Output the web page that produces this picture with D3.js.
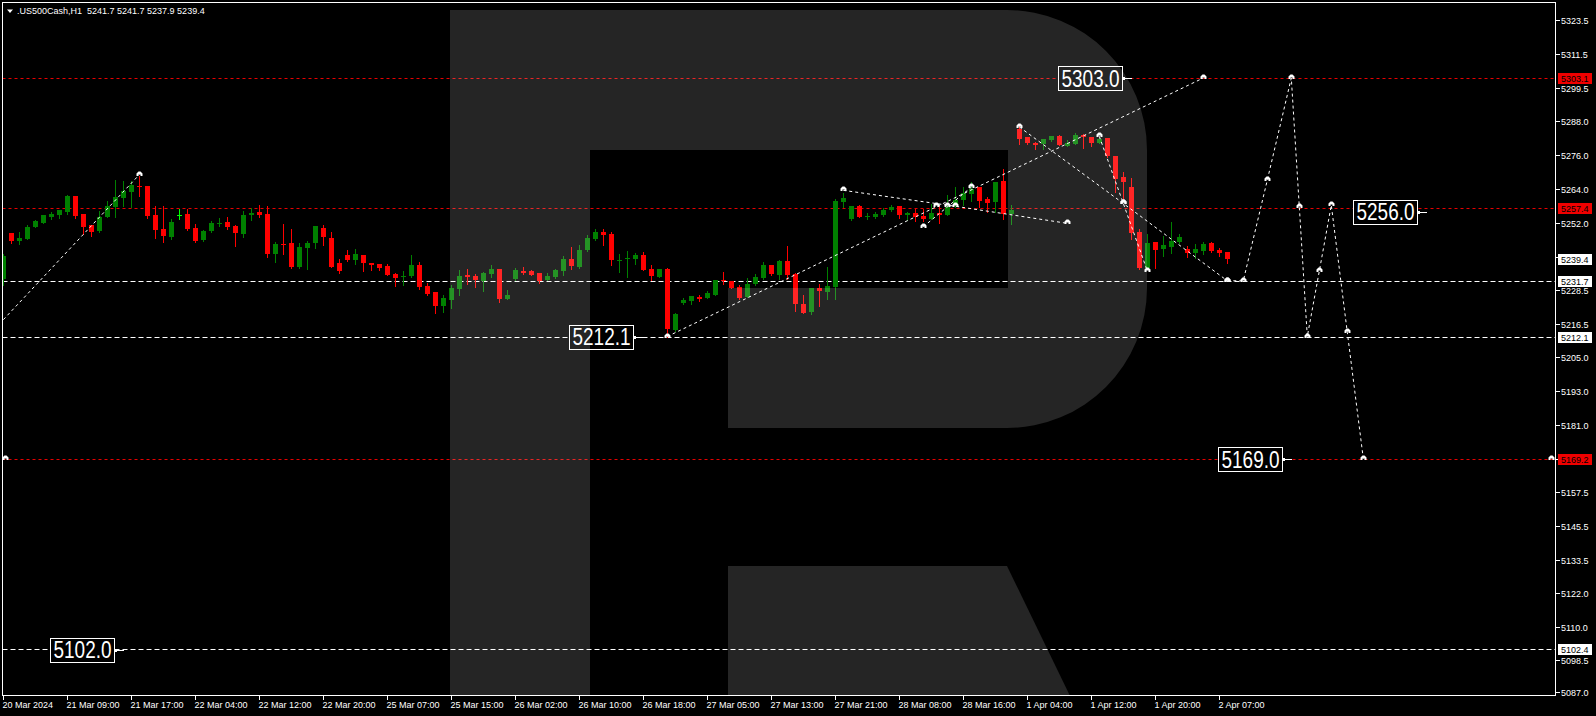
<!DOCTYPE html>
<html><head><meta charset="utf-8">
<script src="https://cdn.jsdelivr.net/npm/d3@7"></script>
<style>
body{margin:0;background:#000;overflow:hidden}
svg{display:block}
text{font-family:"Liberation Sans",Arial,sans-serif}
</style></head>
<body><svg id="c" width="1596" height="716"></svg>
<script>
// ---- data ----
const symbolTitle = ".US500Cash,H1  5241.7 5241.7 5237.9 5239.4";
const opens = [5232.2,5248.5,5245.7,5246.4,5250.6,5252.1,5254.2,5254.9,5255.9,5261.5,5255.2,5251.4,5249.2,5254.2,5257.7,5260.8,5263.0,5265.1,5265.1,5254.9,
5249.9,5247.1,5255.0,5255.2,5250.3,5246.1,5249.2,5252.0,5252.4,5251.0,5248.2,5254.9,5255.9,5255.2,5241.2,5244.7,5245.0,5236.6,5243.3,5245.0,
5250.3,5246.8,5238.0,5240.8,5239.0,5240.8,5238.0,5237.6,5236.9,5234.1,5233.4,5233.4,5237.3,5229.8,5227.7,5222.8,5224.9,5228.8,5233.7,5233.3,
5231.6,5234.0,5235.8,5225.3,5232.3,5235.1,5235.1,5234.4,5231.9,5233.0,5235.1,5239.3,5236.5,5242.5,5246.3,5248.8,5248.1,5239.0,5239.6,5239.3,
5240.7,5235.8,5233.0,5235.8,5214.4,5223.9,5224.6,5226.0,5225.6,5226.7,5232.0,5231.6,5229.5,5226.0,5230.5,5232.6,5237.2,5233.7,5238.6,5234.0,
5223.5,5220.7,5229.1,5227.7,5229.5,5259.4,5253.4,5257.9,5254.4,5254.1,5254.8,5256.5,5257.9,5254.8,5255.5,5254.4,5253.4,5255.5,5254.8,5258.3,
5260.1,5262.2,5264.6,5260.4,5259.4,5266.7,5255.1,5285.0,5282.2,5280.1,5279.7,5281.1,5282.6,5279.0,5279.7,5282.9,5282.2,5280.1,5281.9,5275.5,
5268.1,5264.6,5248.8,5236.2,5245.3,5242.8,5243.5,5245.3,5242.8,5241.4,5242.1,5244.9,5242.5,5241.7];
const highs = [5241.0,5248.5,5248.9,5251.4,5253.1,5254.9,5255.9,5256.6,5261.9,5261.5,5255.2,5251.4,5256.3,5259.8,5267.2,5266.8,5266.8,5268.6,5265.1,5258.0,
5258.0,5253.5,5257.0,5257.0,5251.7,5249.6,5252.8,5253.8,5254.2,5251.4,5256.3,5257.3,5258.4,5258.0,5245.4,5251.7,5249.9,5245.0,5245.7,5251.0,
5251.4,5248.9,5239.4,5242.6,5242.9,5240.8,5238.0,5237.6,5237.6,5234.5,5235.2,5240.8,5238.3,5231.0,5227.7,5226.7,5230.2,5235.5,5235.8,5234.0,
5234.8,5237.2,5235.8,5228.4,5236.2,5236.5,5235.5,5234.4,5234.4,5235.8,5240.4,5243.5,5244.2,5247.8,5249.9,5249.9,5248.8,5241.1,5242.1,5241.4,
5241.8,5237.2,5235.8,5236.2,5220.3,5225.6,5226.3,5226.7,5228.1,5231.9,5234.7,5231.6,5230.2,5232.6,5234.0,5238.3,5237.2,5239.0,5243.9,5234.4,
5226.7,5229.1,5230.5,5236.5,5260.4,5262.5,5257.9,5258.3,5255.5,5255.8,5257.2,5258.3,5257.9,5255.8,5256.9,5256.9,5258.6,5257.9,5261.8,5264.6,
5264.6,5266.4,5264.6,5261.1,5266.4,5270.9,5258.3,5286.4,5282.2,5280.4,5281.5,5282.6,5282.9,5281.1,5283.6,5283.3,5282.2,5281.9,5281.9,5275.5,
5269.9,5267.8,5249.9,5248.1,5245.3,5247.4,5252.3,5248.1,5243.9,5244.6,5245.3,5245.3,5243.2,5241.7];
const lows = [5230.3,5245.1,5244.8,5246.4,5250.6,5252.1,5253.5,5253.8,5255.2,5253.8,5248.2,5247.5,5248.9,5254.2,5254.2,5258.0,5257.7,5261.5,5253.8,5246.8,
5245.4,5246.4,5253.5,5249.6,5245.4,5245.7,5248.9,5251.0,5249.9,5244.0,5247.1,5253.1,5254.2,5240.1,5238.3,5241.2,5236.2,5236.2,5235.9,5243.3,
5244.3,5236.6,5234.5,5238.7,5237.6,5235.2,5235.5,5235.5,5233.8,5229.9,5230.3,5233.1,5228.8,5226.7,5220.3,5220.7,5222.1,5226.7,5230.5,5229.5,
5228.1,5233.0,5224.2,5225.3,5231.9,5234.0,5233.7,5230.9,5231.9,5232.6,5233.7,5235.8,5236.2,5242.1,5246.0,5244.2,5237.2,5234.8,5233.0,5237.6,
5235.5,5231.9,5233.0,5212.1,5214.0,5223.5,5223.5,5224.6,5225.6,5226.7,5230.5,5229.1,5225.3,5226.0,5230.2,5232.3,5233.7,5232.3,5232.3,5221.0,
5220.3,5220.0,5222.8,5225.3,5225.3,5257.6,5253.0,5254.1,5253.4,5253.7,5254.4,5256.2,5253.7,5253.0,5252.7,5252.7,5253.4,5252.0,5254.8,5257.6,
5258.3,5259.7,5257.6,5255.8,5255.8,5253.4,5251.6,5279.7,5279.7,5278.0,5278.0,5280.8,5279.4,5279.0,5279.7,5278.3,5279.0,5280.1,5275.2,5262.9,
5260.1,5246.3,5235.8,5235.8,5236.2,5240.4,5241.4,5245.0,5240.0,5239.7,5241.1,5241.8,5240.4,5237.9];
const closes = [5240.5,5245.7,5246.8,5250.6,5252.8,5254.9,5255.2,5256.6,5261.5,5254.5,5250.6,5248.9,5254.2,5258.0,5261.2,5263.3,5265.4,5265.0,5254.5,5249.6,
5247.5,5252.4,5255.0,5249.9,5245.7,5249.2,5252.0,5252.1,5250.6,5248.5,5254.9,5255.6,5254.9,5241.2,5244.7,5244.6,5236.6,5243.6,5245.0,5251.0,
5247.1,5236.6,5235.2,5239.0,5241.2,5238.0,5237.3,5236.2,5233.8,5232.7,5233.5,5237.3,5229.5,5227.0,5222.8,5225.6,5229.1,5233.3,5233.0,5231.9,
5234.4,5235.8,5225.3,5226.7,5235.5,5234.4,5233.7,5231.6,5233.3,5235.5,5239.3,5236.9,5242.5,5246.7,5248.8,5247.8,5239.0,5239.1,5239.7,5240.7,
5235.5,5233.3,5235.8,5214.7,5220.0,5224.9,5226.3,5225.3,5227.4,5231.9,5231.9,5229.1,5225.6,5230.5,5233.0,5237.2,5234.0,5238.6,5233.7,5223.5,
5220.3,5229.1,5228.1,5229.8,5259.7,5260.8,5257.9,5254.1,5254.5,5255.1,5256.5,5257.6,5254.8,5255.5,5254.1,5253.4,5255.5,5254.8,5257.6,5260.1,
5262.5,5263.9,5259.7,5259.0,5266.4,5255.1,5256.5,5281.5,5280.1,5279.4,5281.5,5282.6,5279.4,5280.1,5282.9,5282.2,5280.1,5281.5,5275.5,5267.4,
5266.4,5248.5,5236.2,5244.9,5242.5,5244.2,5245.6,5247.0,5241.4,5242.8,5244.6,5242.1,5241.4,5239.4];

const xTickBars = [0,8,16,24,32,40,48,56,64,72,80,88,96,104,112,120,128,136,144,152];
const xTickLabels = ["20 Mar 2024","21 Mar 09:00","21 Mar 17:00","22 Mar 04:00","22 Mar 12:00","22 Mar 20:00","25 Mar 07:00","25 Mar 15:00",
"26 Mar 02:00","26 Mar 10:00","26 Mar 18:00","27 Mar 05:00","27 Mar 13:00","27 Mar 21:00","28 Mar 08:00","28 Mar 16:00",
"1 Apr 04:00","1 Apr 12:00","1 Apr 20:00","2 Apr 07:00"];
const yTicks = [5323.5,5311.5,5299.5,5288.0,5276.0,5264.0,5252.0,5240.0,5228.5,5216.5,5205.0,5193.0,5181.0,5169.0,5157.5,5145.5,5133.5,5122.0,5110.0,5098.5,5087.0];

const levelValues = [5303.1,5257.4,5231.7,5212.1,5169.2,5102.4];
const levelKinds  = ["red","red","white","white","red","white"];
const currentPrice = 5239.4;

// forecast / wave paths: [bar index, price]
const wavePaths = [
  [[-0.5,5216.5],[17,5269.0]],
  [[83,5212.1],[150,5303.0]],
  [[105,5263.5],[119,5257.9],[133,5251.9]],
  [[115,5250.7],[121,5264.6]],
  [[127,5285.8],[140,5258.9],[153,5231.7]],
  [[137,5282.5],[140,5258.9],[143,5235.2]],
  [[153,5231.7],[155,5231.7],[158,5267.1],[161,5303.0],[162,5257.8],[163,5212.1],[164.5,5235.1],[166,5258.3],[168,5213.6],[170,5169.2]]
];
const extraMarkers = [[116.6,5257.9],[117.9,5257.9],[0.2,5169.2],[193.5,5169.2]];
const boxLabels = ["5303.0","5212.1","5256.0","5169.0","5102.0"];
const boxLevels = [5303.0,5212.1,5256.0,5169.0,5102.0];
const boxRightBars = [139.8,78.7,176.7,159.8,13.8];

// ---- chart ----
const svg = d3.select("#c");
const W = 1596, H = 716;
const L = 2.5, T = 2.5, R = 1555.5, B = 695.5;
svg.append("rect").attr("width",W).attr("height",H).attr("fill","#000");

const x = d3.scaleLinear().domain([0,153]).range([3.3,1227.3]);
const y = d3.scaleLinear().domain([5087,5323.5]).range([692.3,19.7]);

svg.append("defs").append("clipPath").attr("id","plot")
  .append("rect").attr("x",3).attr("y",3).attr("width",R-3).attr("height",B-3);
const g = svg.append("g").attr("clip-path","url(#plot)");

// horizontal levels
levelValues.forEach((v,k)=>{
  const yy = Math.round(y(v))+0.5;
  g.append("line").attr("x1",L).attr("x2",R).attr("y1",yy).attr("y2",yy)
    .attr("stroke", levelKinds[k]==="red" ? "#e60000" : "#ffffff")
    .attr("stroke-width",1)
    .attr("stroke-dasharray", levelKinds[k]==="red" ? "3,3" : "5,3");
});

// candles
const data = opens.map((o,i)=>({i,o,h:highs[i],l:lows[i],c:closes[i]}));
const cg = g.append("g").attr("shape-rendering","crispEdges");
data.forEach(d=>{
  const cx = Math.round(x(d.i));
  const col = d.c > d.o ? "#008000" : (d.c < d.o ? "#ff0000" : "#00ff00");
  const yh = Math.round(y(d.h)), yl = Math.round(y(d.l));
  cg.append("rect").attr("x",cx).attr("y",yh).attr("width",1).attr("height",Math.max(1,yl-yh+1)).attr("fill",col);
  const yt = Math.round(y(Math.max(d.o,d.c))), yb = Math.round(y(Math.min(d.o,d.c)));
  cg.append("rect").attr("x",cx-2).attr("y",yt).attr("width",5).attr("height",Math.max(1,yb-yt)).attr("fill",col);
});

// wave paths
const lineGen = d3.line().x(p=>x(p[0])).y(p=>y(p[1]));
wavePaths.forEach(pts=>{
  g.append("path").attr("d",lineGen(pts)).attr("fill","none")
    .attr("stroke","#fff").attr("stroke-width",1).attr("stroke-dasharray","3,3");
});
const markerPath = "M-3,2V-0.5L-1,-2.5H1L3,-0.5V2H1V0.5H-1V2Z";
const markerPts = [];
wavePaths.forEach((pts,k)=>pts.forEach((p,j)=>{ if(!(k===0&&j===0)) markerPts.push(p); }));
extraMarkers.forEach(p=>markerPts.push(p));
markerPts.forEach(p=>{
  g.append("path").attr("d",markerPath)
    .attr("transform",`translate(${Math.round(x(p[0]))+0.5},${Math.round(y(p[1]))-1})`)
    .attr("fill","#fff");
});

// boxed price labels
boxLabels.forEach((t,k)=>{
  const xr = Math.round(x(boxRightBars[k]));
  const yc = y(boxLevels[k]);
  const bw = 64, bh = 24;
  const bx = xr - bw;
  g.append("line").attr("x1",xr).attr("x2",xr+10).attr("y1",Math.round(yc)+0.5).attr("y2",Math.round(yc)+0.5)
    .attr("stroke","#fff").attr("stroke-width",1);
  g.append("rect").attr("x",xr).attr("y",Math.round(yc)-1).attr("width",3).attr("height",3).attr("fill","#fff");
  g.append("rect").attr("x",bx+0.5).attr("y",Math.round(yc-bh/2)+0.5).attr("width",bw).attr("height",bh)
    .attr("fill","#000").attr("stroke","#fff").attr("stroke-width",1);
  g.append("text").attr("x",bx+bw/2+0.5).attr("y",yc+8.5).attr("text-anchor","middle")
    .attr("font-size",23).attr("fill","#fff")
    .attr("textLength",58).attr("lengthAdjust","spacingAndGlyphs").text(t);
});

// logo overlay (semi-transparent)
const logo = g.append("g").attr("fill","#fff").attr("fill-opacity",0.145);
logo.append("path").attr("d",
 "M450,10 L1007,10 A140,140 0 0 1 1147,150 L1147,288 A140,140 0 0 1 1007,428 L728,428 L728,288 L1008,288 L1008,150 L590,150 L590,700 L450,700 Z");
logo.append("path").attr("d","M728,566 L1007,566 L1072,700 L728,700 Z");

// frame
svg.append("rect").attr("x",L).attr("y",T).attr("width",R-L).attr("height",B-T)
  .attr("fill","none").attr("stroke","#fff").attr("stroke-width",1).attr("shape-rendering","crispEdges");

// right axis
const ya = svg.append("g");
yTicks.forEach(v=>{
  const yy = Math.round(y(v))+0.5;
  ya.append("line").attr("x1",R).attr("x2",R+4).attr("y1",yy).attr("y2",yy).attr("stroke","#fff").attr("shape-rendering","crispEdges");
  ya.append("text").attr("x",1561).attr("y",yy).attr("dy","0.35em").attr("font-size",9).attr("fill","#fff").text(v.toFixed(1));
});
const axisBoxes = levelValues.map((v,k)=>({v,kind:levelKinds[k]})).concat([{v:currentPrice,kind:"white"}]);
axisBoxes.forEach(b=>{
  const yy = Math.round(y(b.v));
  ya.append("rect").attr("x",1558).attr("y",yy-5).attr("width",34).attr("height",11)
    .attr("fill", b.kind==="red" ? "#f00000" : "#fff").attr("shape-rendering","crispEdges");
  ya.append("text").attr("x",1561).attr("y",yy+0.5).attr("dy","0.35em").attr("font-size",9)
    .attr("fill","#000").text(b.v.toFixed(1));
});

// bottom axis
const xa = svg.append("g");
xTickBars.forEach((b,k)=>{
  const xx = Math.round(x(b))+0.5;
  xa.append("line").attr("x1",xx).attr("x2",xx).attr("y1",B).attr("y2",B+4).attr("stroke","#fff").attr("shape-rendering","crispEdges");
  xa.append("text").attr("x",xx-1).attr("y",708).attr("font-size",9).attr("fill","#fff").text(xTickLabels[k]);
});

// header
svg.append("path").attr("d","M7,9.5 L13,9.5 L10,13 Z").attr("fill","#fff");
svg.append("text").attr("x",17).attr("y",14).attr("font-size",9).attr("fill","#fff")
  .attr("xml:space","preserve").style("white-space","pre").text(symbolTitle);
</script>
</body></html>
